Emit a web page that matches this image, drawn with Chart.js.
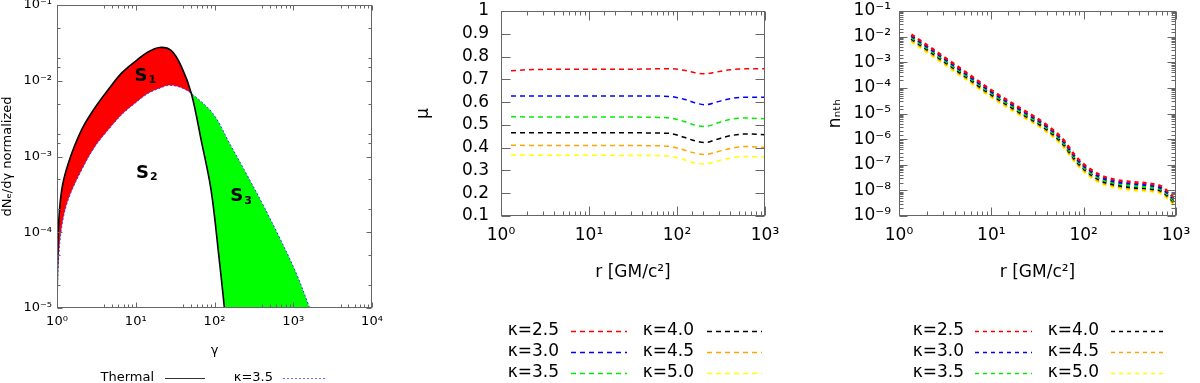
<!DOCTYPE html>
<html>
<head>
<meta charset="utf-8">
<script src="https://cdn.jsdelivr.net/npm/chart.js@4.4.1/dist/chart.umd.min.js"></script>
<style>
  html, body { margin: 0; padding: 0; background: #fff; }
  #wrap { position: relative; width: 1200px; height: 383px; overflow: hidden; }
  canvas { position: absolute; top: 0; }
</style>
</head>
<body>
<div id="wrap">
  <canvas id="spectrum" width="390" height="383" style="left:0px"></canvas>
  <canvas id="mu" width="410" height="383" style="left:390px"></canvas>
  <canvas id="nnth" width="410" height="383" style="left:790px"></canvas>
</div>
<script>
// ---- left panel: thermal vs kappa distribution ----
const thermalGamma = [1.0, 1.04, 1.147, 1.39, 2.05, 3.03, 4.46, 6.6, 9.7, 14.3, 20.1, 28.3, 37.9, 50.8, 67.6, 90.5, 115, 133.6, 160, 2500];
const thermalDens  = [1e-5, 1.07e-4, 3.6e-4, 8.1e-4, 2.24e-3, 4.4e-3, 7.6e-3, 1.26e-2, 1.78e-2, 2.4e-2, 2.75e-2, 2.5e-2, 1.55e-2, 6.8e-3, 1.66e-3, 3.6e-4, 4.3e-5, 1.0e-5, 1.6e-6, 1e-12];
const kappaGamma = [1.0, 1.04, 1.147, 1.39, 2.05, 3.03, 4.46, 6.6, 9.7, 14.3, 21, 27, 37.9, 50.8, 95.3, 155, 252, 409, 662, 1088, 1590, 2500];
const kappaDens  = [1e-5, 3.9e-5, 1.17e-4, 2.7e-4, 6.6e-4, 1.35e-3, 2.24e-3, 3.55e-3, 5.0e-3, 6.8e-3, 8.1e-3, 8.7e-3, 8.1e-3, 6.8e-3, 3.7e-3, 1.5e-3, 6.0e-4, 2.35e-4, 8.7e-5, 2.9e-5, 1.05e-5, 3e-6];

// ---- middle panel: mu(r) ----
const kappaLabels = ['κ=2.5', 'κ=3.0', 'κ=3.5', 'κ=4.0', 'κ=4.5', 'κ=5.0'];
const kappaColors = ['#ff0000', '#0000ff', '#00ee00', '#000000', '#ffa500', '#ffff00'];
const muRadius = [1.3, 2, 5, 10, 20, 40, 80, 120, 160, 210, 280, 400, 600, 1000];
const muK25 = [0.738, 0.742, 0.744, 0.744, 0.744, 0.745, 0.747, 0.740, 0.729, 0.724, 0.732, 0.742, 0.746, 0.747];
const muK30 = [0.627, 0.627, 0.627, 0.627, 0.627, 0.627, 0.625, 0.613, 0.597, 0.588, 0.600, 0.615, 0.621, 0.621];
const muK35 = [0.536, 0.535, 0.535, 0.535, 0.535, 0.534, 0.531, 0.515, 0.499, 0.493, 0.507, 0.524, 0.530, 0.527];
const muK40 = [0.466, 0.466, 0.466, 0.466, 0.466, 0.465, 0.463, 0.446, 0.430, 0.423, 0.436, 0.452, 0.460, 0.457];
const muK45 = [0.411, 0.410, 0.410, 0.410, 0.410, 0.409, 0.406, 0.390, 0.376, 0.370, 0.381, 0.396, 0.405, 0.401];
const muK50 = [0.368, 0.367, 0.367, 0.367, 0.366, 0.366, 0.363, 0.347, 0.333, 0.328, 0.340, 0.355, 0.361, 0.359];

// ---- right panel: n_nth(r) ----
const nRadius = [1.36, 2, 3, 5, 10, 20, 40, 60, 80, 100, 150, 220, 350, 500, 700, 1000];
const nK25 = [1.2e-2, 4.7e-3, 1.7e-3, 4.7e-4, 8.1e-5, 1.7e-5, 3.5e-6, 9.5e-7, 2.4e-7, 1.05e-7, 4.0e-8, 2.6e-8, 2.1e-8, 1.86e-8, 1.4e-8, 4.2e-9];
const nK30 = [1.05e-2, 4.1e-3, 1.5e-3, 4.1e-4, 7.1e-5, 1.5e-5, 3.1e-6, 8.4e-7, 2.1e-7, 9.2e-8, 3.4e-8, 2.2e-8, 1.8e-8, 1.6e-8, 1.2e-8, 3.7e-9];
const nK35 = [9.3e-3, 3.6e-3, 1.3e-3, 3.6e-4, 6.2e-5, 1.3e-5, 2.7e-6, 7.3e-7, 1.85e-7, 8.0e-8, 2.9e-8, 1.9e-8, 1.5e-8, 1.35e-8, 1.05e-8, 3.2e-9];
const nK40 = [8.3e-3, 3.2e-3, 1.15e-3, 3.2e-4, 5.5e-5, 1.15e-5, 2.4e-6, 6.5e-7, 1.65e-7, 7.1e-8, 2.55e-8, 1.65e-8, 1.3e-8, 1.2e-8, 9.3e-9, 2.9e-9];
const nK45 = [7.2e-3, 2.8e-3, 1.0e-3, 2.8e-4, 4.8e-5, 1.0e-5, 2.1e-6, 5.7e-7, 1.45e-7, 6.2e-8, 2.2e-8, 1.45e-8, 1.15e-8, 1.05e-8, 8.2e-9, 2.6e-9];
const nK50 = [6.3e-3, 2.5e-3, 9.0e-4, 2.5e-4, 4.3e-5, 9.0e-6, 1.9e-6, 5.1e-7, 1.3e-7, 5.5e-8, 1.95e-8, 1.3e-8, 1.02e-8, 9.3e-9, 7.3e-9, 2.3e-9];

const FONT = 'DejaVu Sans';
const BORDER = '#666';

const SUP = {'-': '⁻', '0': '⁰', '1': '¹', '2': '²', '3': '³', '4': '⁴', '5': '⁵', '6': '⁶', '7': '⁷', '8': '⁸', '9': '⁹'};
function pow10Label(v) {
  const e = Math.log10(v);
  if (Math.abs(e - Math.round(e)) > 1e-6) return '';
  return '10' + String(Math.round(e)).split('').map(c => SUP[c]).join('');
}

function pairs(xs, ys) {
  return xs.map((x, i) => ({x: x, y: ys[i]}));
}

// force the axis box size so the plot area lands where the original has it
function fixSize(w, h) {
  return function (scale) {
    if (w != null) scale.width = w;
    if (h != null) scale.height = h;
    scale.paddingLeft = 0; scale.paddingRight = 0;
    scale.paddingTop = 0; scale.paddingBottom = 0;
  };
}

// gnuplot style: ticks pointing inwards on all four sides + frame
const innerTicks = {
  id: 'innerTicks',
  afterDraw(chart, args, o) {
    if (!o.xMinor) return;
    const {ctx, chartArea: a} = chart;
    const L = Math.round(a.left) + 0.5, R = Math.round(a.right) - 0.5;
    const T = Math.round(a.top) + 0.5, B = Math.round(a.bottom) - 0.5;
    ctx.save();
    ctx.strokeStyle = BORDER;
    ctx.lineWidth = 1;
    ctx.beginPath();
    ['x', 'y'].forEach(id => {
      const s = chart.scales[id];
      const minorSet = o[id + 'Minor'] || [];
      s.ticks.forEach(t => {
        let len = o.major;
        if (s.type === 'logarithmic') {
          const e = Math.log10(t.value);
          if (Math.abs(e - Math.round(e)) > 1e-6) {
            const sig = Math.round(t.value / Math.pow(10, Math.floor(e + 1e-9)));
            if (minorSet.indexOf(sig) < 0) return;
            len = o.minor;
          }
        }
        const p = Math.round(s.getPixelForValue(t.value)) + 0.5;
        if (id === 'x') {
          ctx.moveTo(p, B); ctx.lineTo(p, B - len);
          ctx.moveTo(p, T); ctx.lineTo(p, T + len);
        } else {
          ctx.moveTo(L, p); ctx.lineTo(L + len, p);
          ctx.moveTo(R, p); ctx.lineTo(R - len, p);
        }
      });
    });
    ctx.stroke();
    ctx.strokeRect(L, T, R - L, B - T);
    ctx.restore();
  }
};

// gnuplot style key: right aligned text followed by a line sample
const gpKey = {
  id: 'gpKey',
  afterDraw(chart, args, o) {
    if (!o.rows) return;
    const ctx = chart.ctx;
    ctx.save();
    ctx.font = o.size + 'px "' + FONT + '"';
    ctx.textAlign = 'right';
    ctx.textBaseline = 'middle';
    chart.data.datasets.forEach((ds, i) => {
      if (!ds.label) return;
      const col = o.cols[Math.floor(i / o.rows.length)];
      const y = o.rows[i % o.rows.length];
      ctx.fillStyle = '#000';
      ctx.fillText(ds.label, col.text, y);
      ctx.strokeStyle = ds.keyColor || ds.borderColor;
      ctx.lineWidth = ds.keyWidth || ds.borderWidth;
      ctx.setLineDash(ds.borderDash || []);
      ctx.beginPath();
      ctx.moveTo(col.from, y + 0.5);
      ctx.lineTo(col.to, y + 0.5);
      ctx.stroke();
    });
    ctx.restore();
  }
};

// S1, S2, S3 area labels
const areaLabels = {
  id: 'areaLabels',
  afterDatasetsDraw(chart, args, o) {
    if (!o.items) return;
    const {ctx, scales} = chart;
    ctx.save();
    ctx.fillStyle = '#000';
    ctx.textBaseline = 'middle';
    o.items.forEach(it => {
      const x = scales.x.getPixelForValue(it.x);
      const y = scales.y.getPixelForValue(it.y);
      ctx.font = 'bold 18px "' + FONT + '"';
      ctx.textAlign = 'right';
      ctx.fillText('S', x + 1, y);
      ctx.font = 'bold 11px "' + FONT + '"';
      ctx.textAlign = 'left';
      ctx.fillText(it.sub, x + 2, y + 4);
    });
    ctx.restore();
  }
};

Chart.register(innerTicks, gpKey, areaLabels);

function logAxis(min, max, size, pad, w, h) {
  return {
    type: 'logarithmic', min: min, max: max,
    grid: {display: false, drawTicks: false},
    border: {display: false},
    ticks: {autoSkip: false, maxRotation: 0, padding: pad, color: '#000',
            font: {family: FONT, size: size}, callback: v => pow10Label(v)},
    afterFit: fixSize(w, h)
  };
}

function axisTitle(text, size) {
  return {display: true, text: text, color: '#000', padding: 0, font: {family: FONT, size: size}};
}

// ---------- left panel ----------
new Chart(document.getElementById('spectrum'), {
  type: 'line',
  data: {
    datasets: [{
      label: 'Thermal',
      data: pairs(thermalGamma, thermalDens),
      borderColor: '#000', borderWidth: 1.6,
      keyColor: '#333', keyWidth: 1,
      pointRadius: 0, fill: false, tension: 0.35
    }, {
      label: 'κ=3.5',
      data: pairs(kappaGamma, kappaDens),
      borderColor: '#3a3aff', borderWidth: 1, borderDash: [2, 2],
      keyColor: '#6a6aff',
      pointRadius: 0, tension: 0.35,
      fill: {target: 0, above: '#00ff00', below: '#ff0000'}
    }]
  },
  options: {
    responsive: false, animation: false,
    layout: {padding: {left: 0, top: 5, right: 18, bottom: 25}},
    scales: {
      x: Object.assign(logAxis(1, 10000, 13, 6, null, 50), {title: axisTitle('γ', 13)}),
      y: Object.assign(logAxis(1e-5, 1e-1, 13, 5, 57, null), {title: axisTitle('dNₑ/dγ normalized', 13)})
    },
    plugins: {
      legend: {display: false}, tooltip: {enabled: false},
      innerTicks: {major: 5, minor: 3, xMinor: [4, 5, 6, 7, 8, 9], yMinor: [2, 5]},
      gpKey: {size: 13, rows: [378], cols: [{text: 154, from: 165, to: 205}, {text: 273, from: 283, to: 325}]},
      areaLabels: {items: [{x: 13.7, y: 1.15e-2, sub: '1'}, {x: 14.3, y: 6.0e-4, sub: '2'}, {x: 225, y: 2.95e-4, sub: '3'}]}
    }
  }
});

// ---------- middle panel ----------
const muSeries = [muK25, muK30, muK35, muK40, muK45, muK50];
new Chart(document.getElementById('mu'), {
  type: 'line',
  data: {
    datasets: muSeries.map((vals, i) => ({
      label: kappaLabels[i],
      data: pairs(muRadius, vals),
      borderColor: kappaColors[i], borderWidth: 1.5, borderDash: [5, 4],
      pointRadius: 0, fill: false, cubicInterpolationMode: 'monotone'
    }))
  },
  options: {
    responsive: false, animation: false,
    layout: {padding: {left: 23, top: 11, right: 35, bottom: 100}},
    scales: {
      x: Object.assign(logAxis(1, 1000, 17, 9, null, 67), {title: axisTitle('r [GM/c²]', 17)}),
      y: {
        type: 'linear', min: 0.1, max: 1,
        grid: {display: false, drawTicks: false},
        border: {display: false},
        ticks: {stepSize: 0.1, autoSkip: false, padding: 12, color: '#000', font: {family: FONT, size: 17},
                callback: v => (Math.abs(v - 1) < 1e-9 ? '1' : v.toFixed(1))},
        title: axisTitle('μ', 17),
        afterFit: fixSize(88, null)
      }
    },
    plugins: {
      legend: {display: false}, tooltip: {enabled: false},
      innerTicks: {major: 9, minor: 4, xMinor: [2, 3, 4, 5, 6, 7, 8, 9], yMinor: []},
      gpKey: {size: 17, rows: [331, 352, 373], cols: [{text: 169, from: 181, to: 237}, {text: 304, from: 317, to: 372}]}
    }
  }
});

// ---------- right panel ----------
const nSeries = [nK25, nK30, nK35, nK40, nK45, nK50];
new Chart(document.getElementById('nnth'), {
  type: 'line',
  data: {
    datasets: nSeries.map((vals, i) => ({
      label: kappaLabels[i],
      data: pairs(nRadius, vals),
      borderColor: kappaColors[i], borderWidth: 2.5, borderDash: [4, 4],
      keyWidth: 1.5,
      pointRadius: 0, fill: false, cubicInterpolationMode: 'monotone'
    }))
  },
  options: {
    responsive: false, animation: false,
    layout: {padding: {left: 35, top: 11, right: 24, bottom: 100}},
    scales: {
      x: Object.assign(logAxis(1, 1000, 17, 9, null, 67), {title: axisTitle('r [GM/c²]', 17)}),
      y: Object.assign(logAxis(1e-9, 1e-1, 17, 8, 74, null), {title: axisTitle('nₙₜₕ', 17)})
    },
    plugins: {
      legend: {display: false}, tooltip: {enabled: false},
      innerTicks: {major: 8, minor: 4, xMinor: [2, 3, 4, 5, 6, 7, 8, 9], yMinor: [2, 3, 4, 5, 6, 7, 8, 9]},
      gpKey: {size: 17, rows: [331, 352, 373], cols: [{text: 174, from: 185, to: 242}, {text: 309, from: 321, to: 377}]}
    }
  }
});
</script>
</body>
</html>
